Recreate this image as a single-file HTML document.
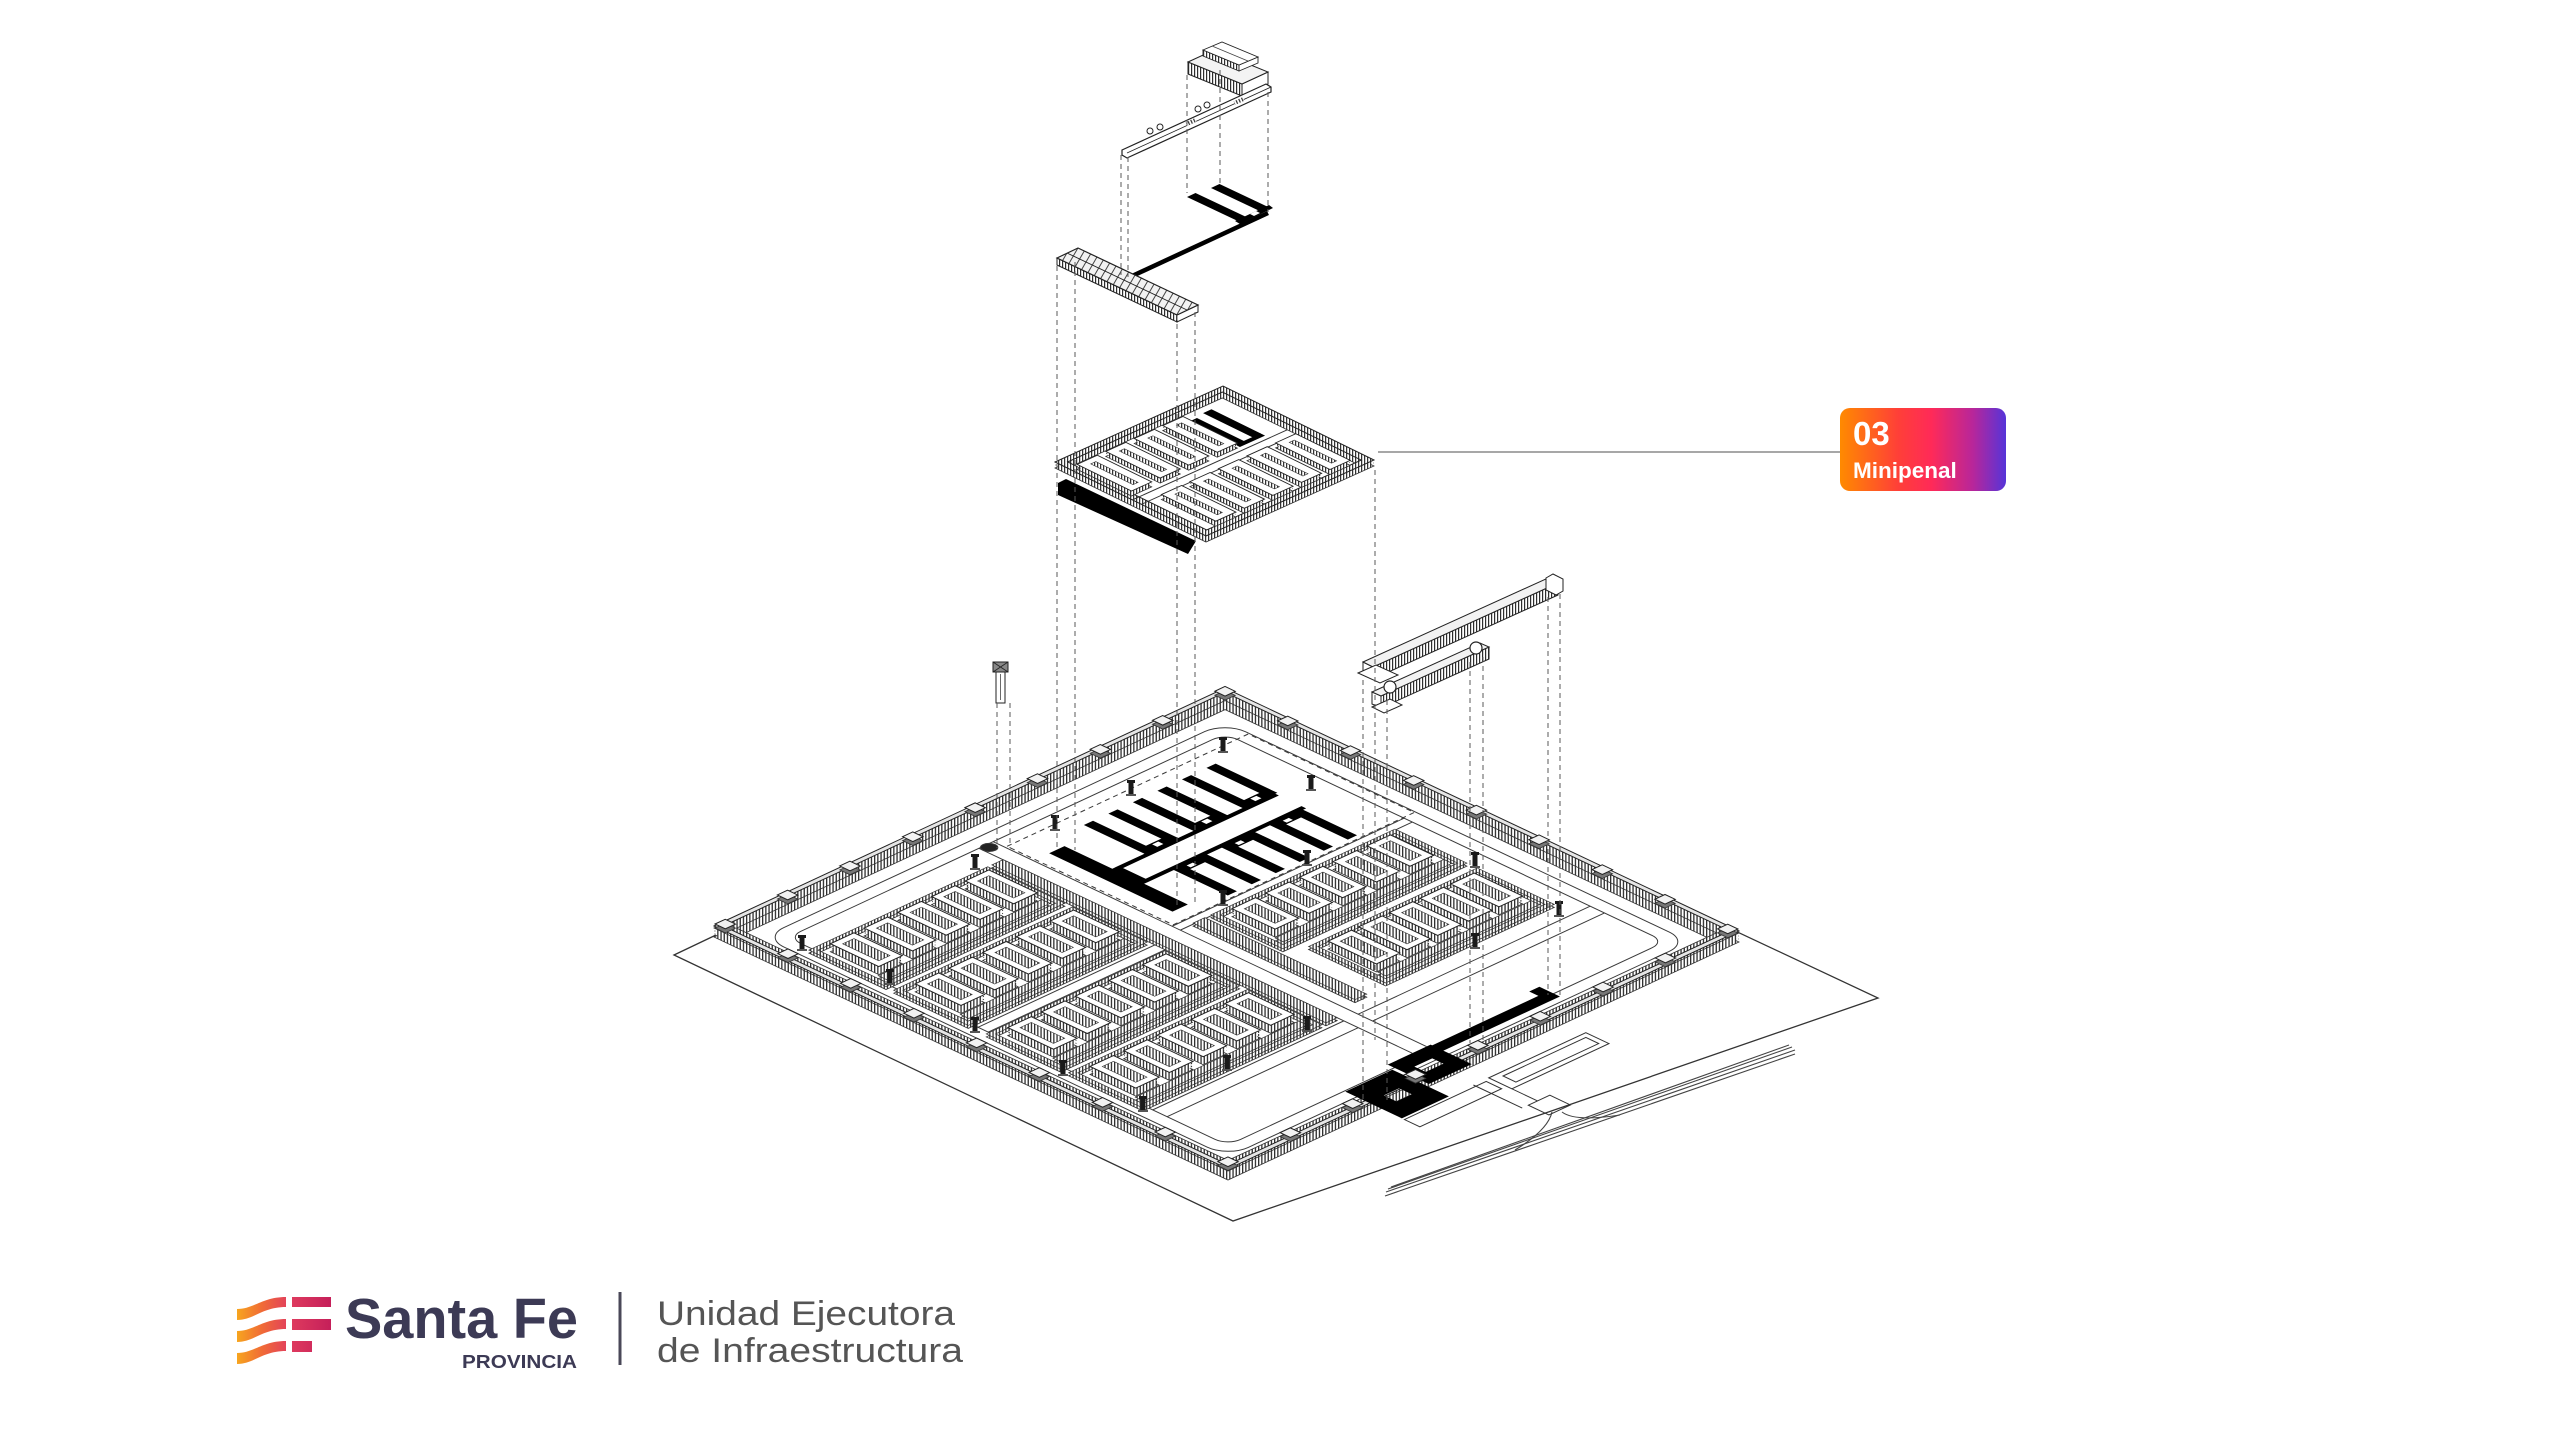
<!DOCTYPE html>
<html><head><meta charset="utf-8"><title>Minipenal</title>
<style>html,body{margin:0;padding:0;background:#fff;width:2560px;height:1440px;overflow:hidden}svg{display:block}</style>
</head><body>
<svg xmlns="http://www.w3.org/2000/svg" width="2560" height="1440" viewBox="0 0 2560 1440" font-family="'Liberation Sans', Arial, sans-serif">
<defs>
<pattern id="vh" patternUnits="userSpaceOnUse" width="3.2" height="8" patternTransform="matrix(0.98578 0.96550 -2.08515 2.07298 0 0)"><rect width="3.2" height="8" fill="#fff"/><rect width="1.3" height="8" fill="#2e2e2e"/></pattern>
<pattern id="vhm" patternUnits="userSpaceOnUse" width="3" height="8" patternTransform="matrix(3.0952 3.1789 -6.3159 7.0269 0 0)"><rect width="3" height="8" fill="#fff"/><rect width="1.2" height="8" fill="#2e2e2e"/></pattern>
<pattern id="vs" patternUnits="userSpaceOnUse" width="3" height="8"><rect width="3" height="8" fill="#fff"/><rect width="1.2" height="8" fill="#2e2e2e"/></pattern>
<pattern id="dg" patternUnits="userSpaceOnUse" width="7" height="7" patternTransform="rotate(30)"><rect width="7" height="7" fill="#f2f2f2"/><rect width="1" height="7" fill="#444"/></pattern>
<linearGradient id="lg" x1="0" y1="0" x2="1" y2="0"><stop offset="0" stop-color="#FF8A00"/><stop offset="0.35" stop-color="#FF3F38"/><stop offset="0.55" stop-color="#FF2A58"/><stop offset="0.8" stop-color="#B8269A"/><stop offset="1" stop-color="#5634D8"/></linearGradient>
<linearGradient id="fs" gradientUnits="userSpaceOnUse" x1="237" y1="0" x2="288" y2="0"><stop offset="0" stop-color="#F7A51E"/><stop offset="0.5" stop-color="#F06A37"/><stop offset="1" stop-color="#E2405C"/></linearGradient>
<linearGradient id="fb" gradientUnits="userSpaceOnUse" x1="292" y1="0" x2="331" y2="0"><stop offset="0" stop-color="#DE3A5E"/><stop offset="1" stop-color="#C51F5A"/></linearGradient>

<path id="wb" vector-effect="non-scaling-stroke" fill-rule="evenodd" d="M0,0H1000V1000H0ZM22,22V978H978V22Z"/>
<path id="wbt" vector-effect="non-scaling-stroke" fill-rule="evenodd" d="M0,0H1000V1000H0ZM9,9V991H991V9Z"/>
<g id="fen">
<path vector-effect="non-scaling-stroke" fill-rule="evenodd" d="M60,125H410V275H60Z M69,134V266H401V134Z M60,290H410V435H60Z M69,299V426H401V299Z M60,470H410V615H60Z M69,479V606H401V479Z M60,630H410V775H60Z M69,639V766H401V639Z M530,440H890V580H530Z M539,449V571H881V449Z M560,600H890V750H560Z M569,609V741H881V609Z"/>
<path vector-effect="non-scaling-stroke" d="M418,125H440V775H418Z M495,440H518V755H495Z M75,245H395V261H75Z M75,405H395V421H75Z M75,585H395V601H75Z M75,745H395V761H75Z M545,550H875V566H545Z M575,720H875V736H575Z"/>
</g>
<path id="bld" vector-effect="non-scaling-stroke" d="M84,143h46v94h-46z M150,143h46v94h-46z M216,143h46v94h-46z M282,143h46v94h-46z M348,143h46v94h-46z M84,308h46v89h-46z M150,308h46v89h-46z M216,308h46v89h-46z M282,308h46v89h-46z M348,308h46v89h-46z M84,488h46v89h-46z M150,488h46v89h-46z M216,488h46v89h-46z M282,488h46v89h-46z M348,488h46v89h-46z M84,648h46v89h-46z M150,648h46v89h-46z M216,648h46v89h-46z M282,648h46v89h-46z M348,648h46v89h-46z M553,458h46v84h-46z M619,458h46v84h-46z M685,458h46v84h-46z M751,458h46v84h-46z M817,458h46v84h-46z M580,618h46v94h-46z M640,618h46v94h-46z M700,618h46v94h-46z M760,618h46v94h-46z M820,618h46v94h-46z"/>
<path id="bldc" vector-effect="non-scaling-stroke" d="M96,155h22v70h-22z M162,155h22v70h-22z M228,155h22v70h-22z M294,155h22v70h-22z M360,155h22v70h-22z M96,320h22v65h-22z M162,320h22v65h-22z M228,320h22v65h-22z M294,320h22v65h-22z M360,320h22v65h-22z M96,500h22v65h-22z M162,500h22v65h-22z M228,500h22v65h-22z M294,500h22v65h-22z M360,500h22v65h-22z M96,660h22v65h-22z M162,660h22v65h-22z M228,660h22v65h-22z M294,660h22v65h-22z M360,660h22v65h-22z M565,470h22v60h-22z M631,470h22v60h-22z M697,470h22v60h-22z M763,470h22v60h-22z M829,470h22v60h-22z M592,630h22v70h-22z M652,630h22v70h-22z M712,630h22v70h-22z M772,630h22v70h-22z M832,630h22v70h-22z"/>
<path id="tw" vector-effect="non-scaling-stroke" d="M1,1h20v20h-20z M123,1h20v20h-20z M245,1h20v20h-20z M368,1h20v20h-20z M490,1h20v20h-20z M612,1h20v20h-20z M735,1h20v20h-20z M857,1h20v20h-20z M979,1h20v20h-20z M1,979h20v20h-20z M123,979h20v20h-20z M245,979h20v20h-20z M368,979h20v20h-20z M490,979h20v20h-20z M612,979h20v20h-20z M735,979h20v20h-20z M857,979h20v20h-20z M979,979h20v20h-20z M1,123h20v20h-20z M1,245h20v20h-20z M1,368h20v20h-20z M1,490h20v20h-20z M1,612h20v20h-20z M1,735h20v20h-20z M1,857h20v20h-20z M979,123h20v20h-20z M979,245h20v20h-20z M979,368h20v20h-20z M979,490h20v20h-20z M979,612h20v20h-20z M979,735h20v20h-20z M979,857h20v20h-20z"/>

<path id="mf" vector-effect="non-scaling-stroke" fill-rule="evenodd" d="M0,0H1000V1000H0ZM40,40V960H960V40Z"/>
<path id="mb" vector-effect="non-scaling-stroke" d="M60,80h120v360h-120z M230,80h120v360h-120z M400,80h120v360h-120z M570,80h120v360h-120z M130,560h120v360h-120z M300,560h120v360h-120z M470,560h120v360h-120z M640,560h120v360h-120z M810,560h120v360h-120z"/>
<path id="mbc" vector-effect="non-scaling-stroke" d="M105,120h30v280h-30z M275,120h30v280h-30z M445,120h30v280h-30z M615,120h30v280h-30z M175,600h30v280h-30z M345,600h30v280h-30z M515,600h30v280h-30z M685,600h30v280h-30z M855,600h30v280h-30z"/>

<g id="gd"><rect x="-2.5" y="-13" width="5" height="13" fill="#1a1a1a"/><rect x="-4" y="-15" width="8" height="3" fill="#1a1a1a"/><rect x="-5" y="-1" width="10" height="2" fill="#555"/></g>
</defs>

<rect width="2560" height="1440" fill="#fff"/>

<!-- site boundary -->
<polygon points="674,955 1226,692 1878,998 1233,1221" fill="none" stroke="#333" stroke-width="1.3"/>

<!-- external road bundle -->
<g fill="none" stroke="#444" stroke-width="1.1">
<path d="M1385,1196 L1795,1054"/>
<path d="M1386,1192 L1795,1050"/>
<path d="M1388,1189 L1792,1047"/>
<path d="M1391,1187 L1789,1045"/>
<path d="M1552,1112 Q1548,1130 1515,1150"/>
<path d="M1562,1112 Q1575,1122 1620,1115"/>
</g>

<!-- ground: roads -->
<g transform="matrix(0.511 -0.238 0.514 0.243 714 937)" fill="none" stroke="#3a3a3a" stroke-width="1">
<rect vector-effect="non-scaling-stroke" x="48" y="48" width="904" height="904" rx="40"/>
<rect vector-effect="non-scaling-stroke" x="72" y="72" width="856" height="856" rx="25"/>
<path vector-effect="non-scaling-stroke" d="M446,72V915 M474,72V915 M72,782H446 M474,782H928 M72,810H446 M474,810H928 M72,442H446 M72,462H446 M474,420H928 M474,436H928"/>
<path vector-effect="non-scaling-stroke" d="M478,95H950V418H478Z" stroke-dasharray="5 4"/>
<ellipse vector-effect="non-scaling-stroke" cx="458" cy="80" rx="12" ry="12" fill="#222"/>
</g>

<!-- wall -->
<g transform="matrix(0.511 -0.238 0.514 0.243 714 937)"><use href="#wb" fill="url(#vh)" stroke="#333" stroke-width="0.8"/></g>
<g transform="translate(0,-3)"><g transform="matrix(0.511 -0.238 0.514 0.243 714 937)"><use href="#wb" fill="url(#vh)"/></g></g>
<g transform="translate(0,-6)"><g transform="matrix(0.511 -0.238 0.514 0.243 714 937)"><use href="#wb" fill="url(#vh)"/></g></g>
<g transform="translate(0,-9)"><g transform="matrix(0.511 -0.238 0.514 0.243 714 937)"><use href="#wb" fill="url(#vh)" stroke="#333" stroke-width="0.8"/></g></g>
<g transform="translate(0,-11)"><g transform="matrix(0.511 -0.238 0.514 0.243 714 937)"><use href="#wbt" fill="#e6e6e6" stroke="#222" stroke-width="1"/></g></g>

<!-- housing fences -->
<g transform="matrix(0.511 -0.238 0.514 0.243 714 937)"><use href="#fen" fill="url(#vh)" stroke="#333" stroke-width="0.8"/></g>
<g transform="translate(0,-3)"><g transform="matrix(0.511 -0.238 0.514 0.243 714 937)"><use href="#fen" fill="url(#vh)" stroke="#333" stroke-width="0.7"/></g></g>
<!-- buildings -->
<g transform="matrix(0.511 -0.238 0.514 0.243 714 937)"><use href="#bld" fill="url(#vh)" stroke="#333" stroke-width="0.8"/></g>
<g transform="translate(0,-3)"><g transform="matrix(0.511 -0.238 0.514 0.243 714 937)"><use href="#bld" fill="url(#vh)"/></g></g>
<g transform="translate(0,-6)"><g transform="matrix(0.511 -0.238 0.514 0.243 714 937)"><use href="#bld" fill="url(#vh)"/></g></g>
<g transform="translate(0,-8)"><g transform="matrix(0.511 -0.238 0.514 0.243 714 937)"><use href="#bld" fill="#fff" stroke="#222" stroke-width="1"/><use href="#bldc" fill="url(#vh)" stroke="#333" stroke-width="0.6"/></g></g>

<!-- admin black complex -->
<g transform="matrix(0.511 -0.238 0.514 0.243 714 937)" fill="#000">
<path d="M505,150h30v240h-30z M540,243h312v9h-312z M598,125h18v120h-18z M646,125h18v120h-18z M694,125h18v120h-18z M742,125h18v120h-18z M790,125h18v120h-18z M838,125h18v120h-18z M598,228h66v17h-66z M694,228h66v17h-66z M790,228h66v17h-66z M540,296h312v9h-312z M593,305h18v105h-18z M640,305h18v105h-18z M687,305h18v105h-18z M734,305h18v105h-18z M781,305h18v105h-18z M828,305h18v105h-18z M593,305h65v14h-65z M687,305h65v14h-65z M781,305h65v14h-65z M535,243h12v62h-12z"/>
<path fill="#fff" d="M625,231h12v10h-12z M721,231h12v10h-12z M817,231h12v10h-12z M615,308h12v8h-12z M709,308h12v8h-12z M803,308h12v8h-12z"/>
</g>

<!-- entrance -->
<g transform="matrix(0.511 -0.238 0.514 0.243 714 937)">
<path fill="#000" fill-rule="evenodd" d="M300,930h92v110h-92z M330,975h30v25h-30z"/>
<path fill="#000" fill-rule="evenodd" d="M398,915h84v80h-84z M420,945h35v22h-35z"/>
<path fill="#000" d="M480,918h225v22h-225z M690,900h20v40h-20z"/>
<path vector-effect="non-scaling-stroke" fill="none" stroke="#333" stroke-width="1" d="M300,1045H460V1075H300Z M470,1040H660V1085H470Z M440,1040V1135 M470,1040V1135 M452,1135h42v40h-42z M488,1050H650V1075H488Z"/>
</g>

<!-- wall towers -->
<g transform="translate(0,-9)"><g transform="matrix(0.511 -0.238 0.514 0.243 714 937)"><use href="#tw" fill="#777" stroke="#333" stroke-width="0.8"/></g></g>
<g transform="translate(0,-13)"><g transform="matrix(0.511 -0.238 0.514 0.243 714 937)"><use href="#tw" fill="#f2f2f2" stroke="#222" stroke-width="1"/></g></g>

<!-- guard posts -->
<use href="#gd" x="1223" y="752"/><use href="#gd" x="1311" y="790"/><use href="#gd" x="1131" y="795"/>
<use href="#gd" x="1055" y="830"/><use href="#gd" x="975" y="869"/><use href="#gd" x="1223" y="905"/>
<use href="#gd" x="1307" y="865"/><use href="#gd" x="1475" y="867"/><use href="#gd" x="1559" y="916"/>
<use href="#gd" x="802" y="950"/><use href="#gd" x="890" y="984"/><use href="#gd" x="975" y="1032"/>
<use href="#gd" x="1063" y="1075"/><use href="#gd" x="1143" y="1111"/><use href="#gd" x="1307" y="1031"/>
<use href="#gd" x="1227" y="1070"/><use href="#gd" x="1475" y="948"/>

<!-- ===== exploded elements ===== -->
<!-- top building -->
<polygon points="1188,62 1242,84 1242,96 1188,74" fill="url(#vs)" stroke="#222" stroke-width="1"/>
<polygon points="1242,84 1268,72 1268,84 1242,96" fill="#fff" stroke="#222" stroke-width="1"/>
<polygon points="1188,62 1214,50 1268,72 1242,84" fill="#f3f3f3" stroke="#222" stroke-width="1"/>
<polygon points="1203,50 1239,65 1239,71 1203,56" fill="url(#vs)" stroke="#222" stroke-width="0.9"/>
<polygon points="1239,65 1258,57 1258,63 1239,71" fill="#fff" stroke="#222" stroke-width="0.9"/>
<polygon points="1203,50 1222,42 1258,57 1239,65" fill="#fff" stroke="#222" stroke-width="0.9"/>
<line x1="1212" y1="46" x2="1248" y2="61" stroke="#444" stroke-width="0.8"/>

<!-- top bar -->
<polygon points="1122,150 1266,84 1271,87 1271,92 1127,158 1122,155" fill="#fff" stroke="#222" stroke-width="1.2"/>
<line x1="1127" y1="153" x2="1271" y2="87" stroke="#222" stroke-width="0.8"/>
<g fill="#fff" stroke="#222" stroke-width="1">
<circle cx="1150" cy="131" r="3"/><circle cx="1160" cy="127" r="3"/><circle cx="1198" cy="109" r="3"/><circle cx="1207" cy="105" r="3"/>
</g>
<rect x="1186" y="120" width="10" height="4" fill="url(#vs)" transform="rotate(-24 1191 122)"/>
<rect x="1234" y="99" width="10" height="4" fill="url(#vs)" transform="rotate(-24 1239 101)"/>

<!-- top black slabs -->
<polygon points="1187,197 1195.5,193 1245.5,216.6 1237,220.6" fill="#000"/>
<polygon points="1211,188 1219.5,184 1269.5,207.6 1261,211.6" fill="#000"/>
<polygon points="1235,221 1269,205 1273,208 1240,224" fill="#000"/>
<polygon points="1250,214 1256,211 1260,213 1254,216" fill="#fff"/>
<line x1="1268" y1="213" x2="1130" y2="277" stroke="#000" stroke-width="4.5"/>

<!-- lower long bar building -->
<polygon points="1057,258 1177,315 1177,322 1057,265" fill="url(#vs)" stroke="#222" stroke-width="1"/>
<polygon points="1177,315 1198,305 1198,312 1177,322" fill="#fff" stroke="#222" stroke-width="1"/>
<polygon points="1057,258 1078,248 1198,305 1177,315" fill="url(#dg)" stroke="#222" stroke-width="1.2"/>
<line x1="1067" y1="253" x2="1187" y2="310" stroke="#222" stroke-width="0.9"/>

<!-- minipenal -->
<polygon points="1058,483 1066,479 1196,541 1188,554 1058,495" fill="#000"/>
<g transform="matrix(0.168 -0.076 0.151 0.074 1055 468)"><use href="#mf" fill="url(#vhm)" stroke="#333" stroke-width="0.8"/></g>
<g transform="translate(0,-3)"><g transform="matrix(0.168 -0.076 0.151 0.074 1055 468)"><use href="#mf" fill="url(#vhm)"/></g></g>
<g transform="translate(0,-6)"><g transform="matrix(0.168 -0.076 0.151 0.074 1055 468)"><use href="#mf" fill="url(#vhm)" stroke="#222" stroke-width="1"/></g></g>
<g transform="matrix(0.168 -0.076 0.151 0.074 1055 468)">
<path vector-effect="non-scaling-stroke" fill="none" stroke="#333" stroke-width="1" d="M40,470H960 M40,530H960"/>
<path fill="#000" d="M705,100h50v340h-50z M805,85h50v330h-50z M705,410h150v30h-150z"/>
<use href="#mb" fill="url(#vhm)" stroke="#333" stroke-width="0.8"/>
</g>
<g transform="translate(0,-3)"><g transform="matrix(0.168 -0.076 0.151 0.074 1055 468)"><use href="#mb" fill="url(#vhm)"/></g></g>
<g transform="translate(0,-5)"><g transform="matrix(0.168 -0.076 0.151 0.074 1055 468)"><use href="#mb" fill="#fff" stroke="#222" stroke-width="0.9"/><use href="#mbc" fill="url(#vhm)" stroke="#333" stroke-width="0.6"/></g></g>

<!-- small tower -->
<rect x="996" y="672" width="9" height="31" fill="#fff" stroke="#222" stroke-width="1"/>
<line x1="1000.5" y1="674" x2="1000.5" y2="700" stroke="#444" stroke-width="0.8"/>
<rect x="993" y="662" width="15" height="10" fill="#888" stroke="#222" stroke-width="1"/>
<path d="M993,662 L1008,672 M1008,662 L993,672" stroke="#222" stroke-width="0.8"/>

<!-- right bar 1 -->
<polygon points="1373,667 1558,583 1558,595 1373,679" fill="url(#vs)" stroke="#222" stroke-width="1"/>
<polygon points="1363,662 1373,667 1373,679 1363,674" fill="#fff" stroke="#222" stroke-width="1"/>
<polygon points="1363,662 1548,578 1558,583 1373,667" fill="#f2f2f2" stroke="#222" stroke-width="1"/>
<polygon points="1546,578 1553,574 1563,579 1563,591 1556,595 1546,590" fill="#fff" stroke="#222" stroke-width="1"/>
<polygon points="1358,673 1376,665 1398,675 1380,683" fill="#fff" stroke="#222" stroke-width="1"/>
<!-- right bar 2 -->
<polygon points="1381,696 1489,647 1489,659 1381,708" fill="url(#vs)" stroke="#222" stroke-width="1"/>
<polygon points="1372,692 1381,696 1381,708 1372,704" fill="#fff" stroke="#222" stroke-width="1"/>
<polygon points="1372,692 1480,643 1489,647 1381,696" fill="#f2f2f2" stroke="#222" stroke-width="1"/>
<circle cx="1390" cy="687" r="6" fill="#fff" stroke="#222" stroke-width="1.2"/>
<circle cx="1476" cy="648" r="6" fill="#fff" stroke="#222" stroke-width="1.2"/>
<polygon points="1372,707 1390,699 1402,705 1384,713" fill="#fff" stroke="#222" stroke-width="1"/>

<!-- dashed projection lines -->
<g stroke="#5a5a5a" stroke-width="1" stroke-dasharray="5 4" fill="none">
<path d="M1121,155V275 M1128,157V277 M1187,75V193 M1220,70V185 M1268,92V212 M1057,266V850 M1075,262V850 M1177,315V905 M1195,312V905 M1375,470V1040 M997,703V848 M1010,703V848 M1363,680V1100 M1387,700V1100 M1470,662V1043 M1483,657V1043 M1548,597V995 M1560,594V995"/>
</g>

<!-- label -->
<line x1="1378" y1="452" x2="1840" y2="452" stroke="#8a8a8a" stroke-width="1.6"/>
<rect x="1840" y="408" width="166" height="83" rx="10" fill="url(#lg)"/>
<text x="1853" y="445" font-size="33" font-weight="bold" fill="#fff">03</text>
<text x="1853" y="478" font-size="22.5" font-weight="bold" fill="#fff">Minipenal</text>

<!-- logo -->
<g>
<path d="M237,1309 C254,1309 262,1297 286,1297 L286,1307 C262,1307 254,1320 237,1320 Z" fill="url(#fs)"/>
<path d="M237,1331 C254,1331 262,1319 286,1319 L286,1329 C262,1329 254,1342 237,1342 Z" fill="url(#fs)"/>
<path d="M237,1353 C254,1353 262,1341 286,1341 L286,1351 C262,1351 254,1364 237,1364 Z" fill="url(#fs)"/>
<rect x="292" y="1297" width="39" height="10" fill="url(#fb)"/>
<rect x="292" y="1319" width="39" height="11" fill="url(#fb)"/>
<rect x="292" y="1341" width="20" height="11" fill="url(#fb)"/>
</g>
<text x="345" y="1338" font-size="57" font-weight="bold" fill="#3c3a55" textLength="233" lengthAdjust="spacingAndGlyphs">Santa Fe</text>
<text x="462" y="1368" font-size="18" font-weight="bold" fill="#3c3a55" textLength="115" lengthAdjust="spacingAndGlyphs">PROVINCIA</text>
<line x1="620" y1="1292" x2="620" y2="1365" stroke="#4a4858" stroke-width="3"/>
<text x="657" y="1325" font-size="34" fill="#555" textLength="298" lengthAdjust="spacingAndGlyphs">Unidad Ejecutora</text>
<text x="657" y="1362" font-size="34" fill="#555" textLength="306" lengthAdjust="spacingAndGlyphs">de Infraestructura</text>
</svg>
</body></html>
